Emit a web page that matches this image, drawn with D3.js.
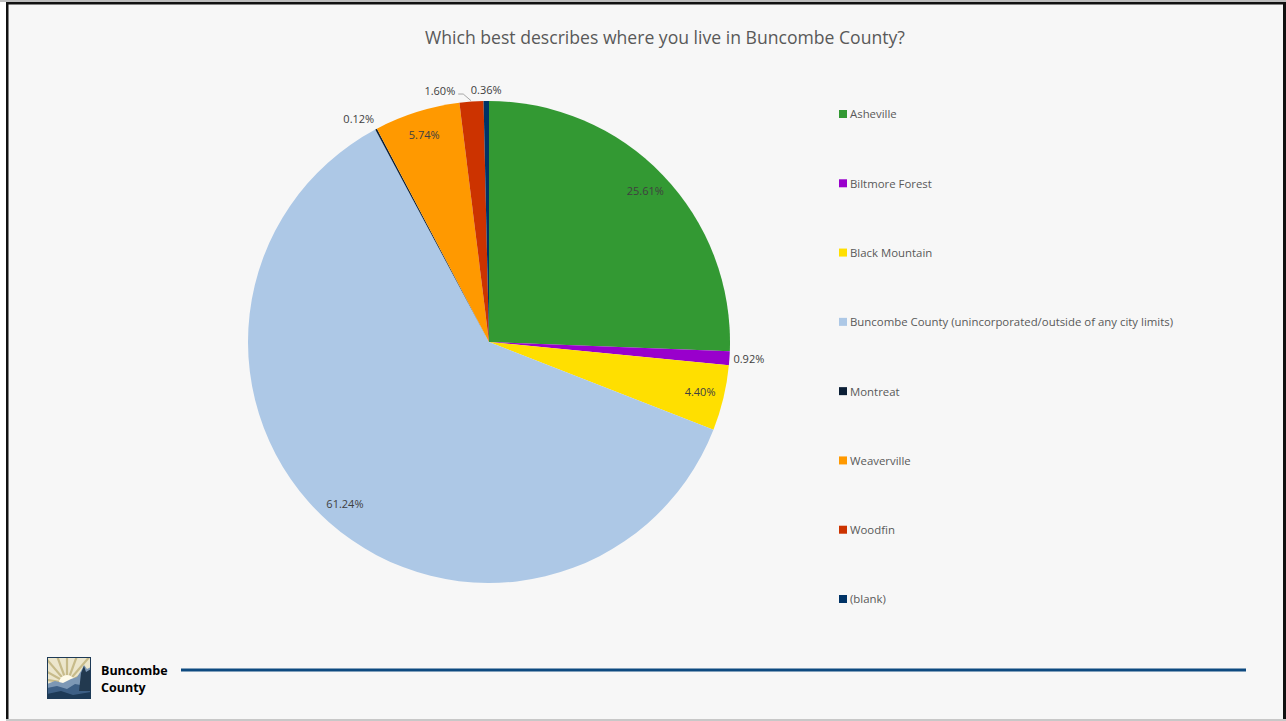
<!DOCTYPE html>
<html><head><meta charset="utf-8">
<script src="https://cdn.jsdelivr.net/npm/d3@7"></script>
<style>
html,body{margin:0;padding:0;background:#fff;}
svg{display:block;}
text{font-family:"Open Sans","Noto Sans",sans-serif;}
</style></head>
<body>
<svg id="c" width="1286" height="721"></svg>
<script>
const title = "Which best describes where you live in Buncombe County?";
const categories = ["Asheville","Biltmore Forest","Black Mountain","Buncombe County (unincorporated/outside of any city limits)","Montreat","Weaverville","Woodfin","(blank)"];
const values = [25.61, 0.92, 4.40, 61.24, 0.12, 5.74, 1.60, 0.36];
const labels = ["25.61%","0.92%","4.40%","61.24%","0.12%","5.74%","1.60%","0.36%"];
const colors = ["#339933","#9900cc","#ffdf00","#adc8e6","#0b1f36","#ff9900","#cc3300","#003366"];
const labelOutside = [false,true,false,false,true,false,true,true];

const svg = d3.select("#c");
// frame
svg.append("rect").attr("x",0).attr("y",0).attr("width",1286).attr("height",2).attr("fill","#bdbdbd");
svg.append("rect").attr("x",7).attr("y",3).attr("width",1276).attr("height",716).attr("fill","#f7f7f7");
svg.append("rect").attr("x",6).attr("y",2).attr("width",2.5).attr("height",717).attr("fill","#111");
svg.append("rect").attr("x",6).attr("y",2).attr("width",1280).attr("height",2.5).attr("fill","#111");
svg.append("rect").attr("x",1283).attr("y",2).attr("width",3).attr("height",719).attr("fill","#111");
svg.append("rect").attr("x",6).attr("y",719).attr("width",1280).attr("height",2).attr("fill","#c8c8c8");

svg.append("text").attr("x",665).attr("y",44).attr("text-anchor","middle")
  .attr("font-size",17.6).attr("fill","#595959").text(title);

const cx = 489, cy = 342, R = 241;
const pie = d3.pie().sort(null).value(d=>d)(values);
const arc = d3.arc().innerRadius(0).outerRadius(R);
const g = svg.append("g").attr("transform",`translate(${cx},${cy})`);
g.selectAll("path").data(pie).join("path")
  .attr("d",arc).attr("fill",(d,i)=>colors[i]);

// labels
const inArc = d3.arc().innerRadius(217).outerRadius(217);
const boxes = [];
pie.forEach((d,i)=>{
  const a = (d.startAngle+d.endAngle)/2;
  const s = Math.sin(a), c = -Math.cos(a);
  if(!labelOutside[i]){
    const [x,y] = inArc.centroid(d);
    boxes.push({i,x,y,anchor:"middle",inside:true});
  } else {
    const r = R+4;
    const px = s*r, py = c*r;
    let anchor = Math.abs(s)<0.05 ? "middle" : (s>0 ? "start" : "end");
    boxes.push({i,x:px,y:py+c*7,anchor,inside:false,a});
  }
});
// simple collision avoidance for outside labels near the top
const w = 32;
function extent(b){ const l = b.anchor==="start"?b.x:(b.anchor==="end"?b.x-w:b.x-w/2); return [l,l+w]; }
const outs = boxes.filter(b=>!b.inside);
for(let k=0;k<outs.length;k++){
  for(let m=0;m<outs.length;m++){
    if(k===m) continue;
    const A=outs[k],B=outs[m];
    if(A.i>B.i) continue;
    const ea=extent(A), eb=extent(B);
    if(Math.abs(A.y-B.y)<14 && ea[1]>eb[0] && ea[0]<eb[1]){
      const d = pie[A.i];
      const a = (d.startAngle+d.endAngle)/2;
      const ex = Math.sin(a)*R, ey = -Math.cos(a)*R;
      A.anchor="end"; A.x = eb[0]-15; A.y = B.y+1;
      A.leader = [[A.x+3,A.y+3],[A.x+8,A.y+3],[ex-0.5,ey-1]];
    }
  }
}
boxes.forEach(b=>{
  if(b.leader){
    g.append("path").attr("d",d3.line()(b.leader)).attr("fill","none")
      .attr("stroke","#a6a6a6").attr("stroke-width",1);
  }
  g.append("text").attr("x",b.x).attr("y",b.y).attr("dy","0.35em")
    .attr("text-anchor",b.anchor).attr("font-size",11).attr("fill","#404040")
    .text(labels[b.i]);
});

// legend
const ly = d3.scalePoint().domain(categories).range([114,599]);
const lg = svg.append("g");
categories.forEach((c,i)=>{
  lg.append("rect").attr("x",839).attr("y",ly(c)-4).attr("width",8).attr("height",8).attr("fill",colors[i]);
  lg.append("text").attr("x",850).attr("y",ly(c)+0.5).attr("dy","0.35em")
    .attr("font-size",11.4).attr("fill","#595959").text(c);
});

// footer logo
const defs = svg.append("defs");
defs.append("clipPath").attr("id","lc").append("rect").attr("width",44).attr("height",42);
const logo = svg.append("g").attr("transform","translate(47,657)").attr("clip-path","url(#lc)");
logo.append("rect").attr("width",44).attr("height",42).attr("fill","#1d3a57");
logo.append("rect").attr("x",1).attr("y",1).attr("width",42).attr("height",30).attr("fill","#ece6cc");
for(let k=0;k<11;k++){
  const ang = -Math.PI - 0.2 + k*(Math.PI+0.4)/10;
  logo.append("line").attr("x1",20).attr("y1",26).attr("x2",20+Math.cos(ang)*40).attr("y2",26+Math.sin(ang)*40)
    .attr("stroke","#c7bb8a").attr("stroke-width",2.2);
}
logo.append("circle").attr("cx",20).attr("cy",26).attr("r",8).attr("fill","#fffbea");
logo.append("path").attr("d","M0,27 L8,24 L16,26 L24,22 L30,20 L34,14 L37,8 L40,12 L44,10 L44,42 L0,42 Z").attr("fill","#7d98b5");
logo.append("path").attr("d","M0,31 L10,29 L20,32 L28,27 L44,30 L44,42 L0,42 Z").attr("fill","#3d5f85");
logo.append("path").attr("d","M0,37 L14,34 L26,38 L44,35 L44,42 L0,42 Z").attr("fill","#1d3a57");
logo.append("path").attr("d","M32,34 L34,16 L37,9 L39,15 L44,12 L44,34 Z").attr("fill","#22394f");
logo.append("rect").attr("width",44).attr("height",42).attr("fill","none").attr("stroke","#1d3a57").attr("stroke-width",2);
svg.append("text").attr("x",101).attr("y",675).attr("font-size",12.5).attr("font-weight","bold").attr("fill","#000").text("Buncombe");
svg.append("text").attr("x",101).attr("y",692).attr("font-size",12.5).attr("font-weight","bold").attr("fill","#000").text("County");
svg.append("line").attr("x1",181).attr("x2",1246).attr("y1",670).attr("y2",670).attr("stroke","#0e4a80").attr("stroke-width",3);
</script>
</body></html>
